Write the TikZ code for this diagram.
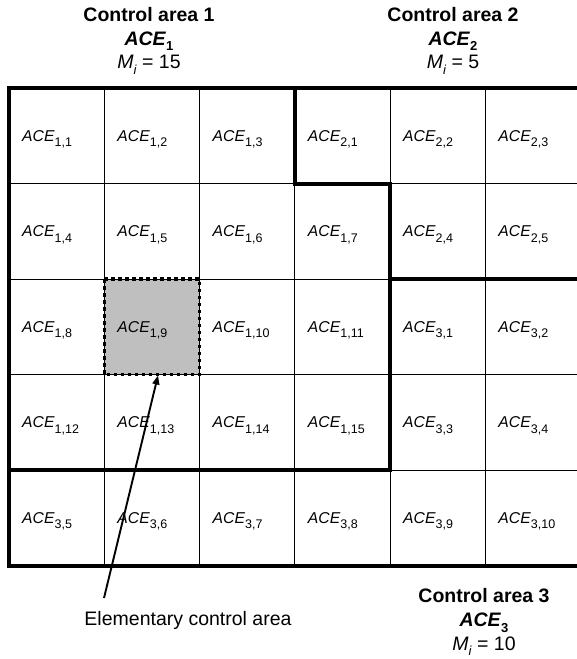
\documentclass[tikz,border=0pt]{standalone}
\usepackage{fontspec}
\setmainfont{Liberation Sans}
\usetikzlibrary{arrows.meta}
\newcommand{\acecell}[1]{\textit{ACE}\raisebox{-0.36em}{\fontsize{12.5}{12.5}\selectfont #1}}
\begin{document}
\begin{tikzpicture}[x=1pt,y=-1pt,
  thinline/.style={line width=1pt,black},
  thickline/.style={line width=4pt,black,line cap=rect,line join=miter},
  celllabel/.style={anchor=base west,inner sep=0pt,font=\fontsize{15.7}{18}\selectfont},
  titletext/.style={anchor=base,inner sep=0pt,font=\fontsize{19.5}{23}\selectfont},
  ecefill/.style={fill=black!25},
  ecedots/.style={line width=3.4pt,dash pattern=on 3.6pt off 3.4pt},
  pointer/.style={line width=1.9pt,-{Triangle[length=9pt,width=7pt]}}]
\useasboundingbox (0,0) rectangle (577,659);
% shaded elementary control area
\fill[ecefill] (104.3,279) rectangle (199.5,374.5);
% thin grid
\foreach \x in {104.3,199.5,294.8,390,485.3}
  \draw[thinline] (\x,88) -- (\x,565.5);
\foreach \y in {183.5,279,374.5,470}
  \draw[thinline] (9,\y) -- (577,\y);
% dotted border of the elementary control area
\draw[ecedots] (104.3,279) rectangle (199.5,374.5);
\coordinate (tip) at (158,375.5);
% thick control-area boundaries
\draw[thickline] (9,565.5) -- (9,88) -- (580,88);
\draw[thickline] (9,565.5) -- (580,565.5);
\draw[thickline] (294.8,88) -- (294.8,183.5) -- (390,183.5) -- (390,470) -- (9,470);
\draw[thickline] (390,279) -- (580,279);
% cell labels
\foreach \lab [count=\i from 0] in {{1,1},{1,2},{1,3},{2,1},{2,2},{2,3},
  {1,4},{1,5},{1,6},{1,7},{2,4},{2,5},
  {1,8},{1,9},{1,10},{1,11},{3,1},{3,2},
  {1,12},{1,13},{1,14},{1,15},{3,3},{3,4},
  {3,5},{3,6},{3,7},{3,8},{3,9},{3,10}}{
  \pgfmathtruncatemacro{\row}{\i/6}
  \pgfmathtruncatemacro{\col}{\i-6*\row}
  \node[celllabel] (c\i) at ({9+\col*95.25+13},{88+\row*95.5+47.75+5.5}) {\acecell{\lab}};
}
% titles
\node[titletext] (t1a) at (149,21.7) {\textbf{Control area 1}};
\node[titletext] (t1b) at (149,45) {\textbf{\textit{ACE}\raisebox{-0.3em}{\fontsize{13}{13}\selectfont 1}}};
\node[titletext] (t1c) at (149,68.3) {\textit{M}\raisebox{-0.3em}{\fontsize{13}{13}\selectfont\textit{i}} = 15};
\node[titletext] (t2a) at (453,21.7) {\textbf{Control area 2}};
\node[titletext] (t2b) at (453,45) {\textbf{\textit{ACE}\raisebox{-0.3em}{\fontsize{13}{13}\selectfont 2}}};
\node[titletext] (t2c) at (453,68.3) {\textit{M}\raisebox{-0.3em}{\fontsize{13}{13}\selectfont\textit{i}} = 5};
\node[titletext] (t3a) at (484,602.7) {\textbf{Control area 3}};
\node[titletext] (t3b) at (484,626.5) {\textbf{\textit{ACE}\raisebox{-0.3em}{\fontsize{13}{13}\selectfont 3}}};
\node[titletext] (t3c) at (484,650) {\textit{M}\raisebox{-0.3em}{\fontsize{13}{13}\selectfont\textit{i}} = 10};
% elementary control area label and pointer
\node[titletext] (elab) at (188,625.7) {Elementary control area};
\coordinate (tail) at (104,598);
\draw[pointer] (tail) -- (tip);
\end{tikzpicture}
\end{document}
